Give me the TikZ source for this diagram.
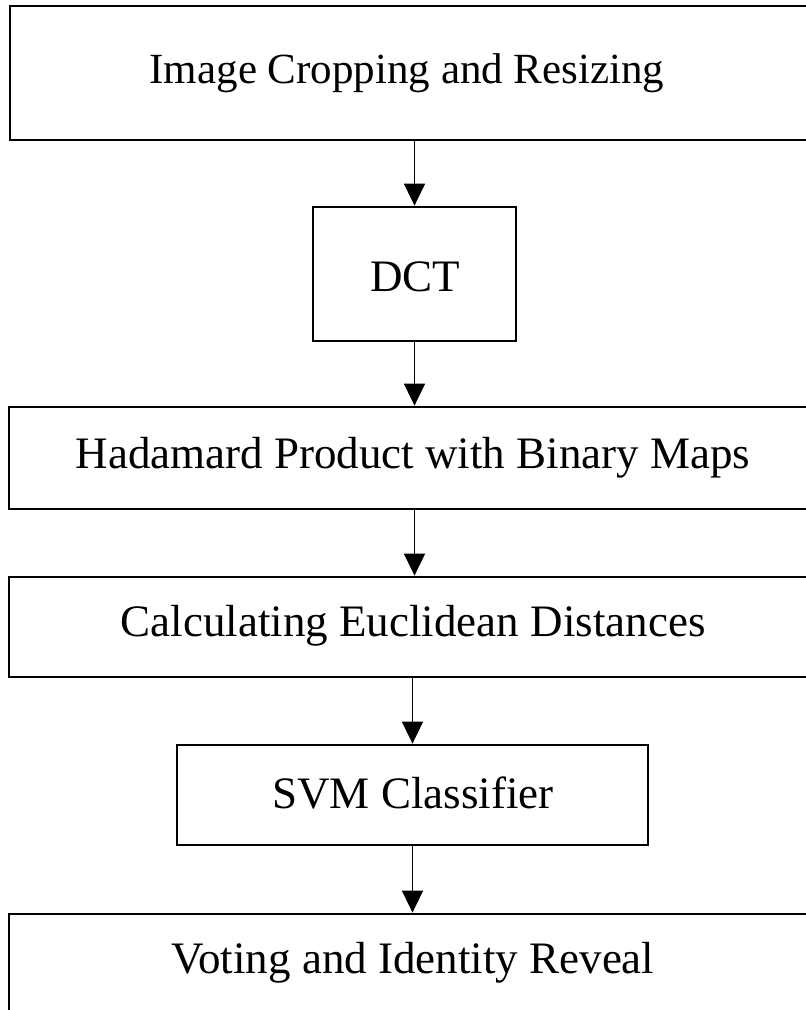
\documentclass[tikz,border=0pt]{standalone}
\usepackage{fontspec}
\setmainfont{Liberation Serif}
\usetikzlibrary{arrows.meta}
\begin{document}
\begin{tikzpicture}[x=1pt,y=-1pt,
  box/.style={draw=black, line width=2.8pt, fill=white},
  txt/.style={font=\fontsize{45}{52}\selectfont, inner sep=0pt},
  arr/.style={line width=1.7pt, -{Triangle[length=22pt,width=21pt]}}]
  \useasboundingbox (0,0) rectangle (806,1010);
  % process boxes (the wide ones run past the right edge)
  \node[box, minimum width=851pt, minimum height=134pt, inner sep=0pt] (b1) at (435.5,73) {};
  \node[box, minimum width=203pt, minimum height=134pt, inner sep=0pt] (b2) at (414.5,274) {};
  \node[box, minimum width=851pt, minimum height=102pt, inner sep=0pt] (b3) at (434.5,458) {};
  \node[box, minimum width=851pt, minimum height=100pt, inner sep=0pt] (b4) at (434.5,627) {};
  \node[box, minimum width=471pt, minimum height=100pt, inner sep=0pt] (b5) at (412.5,795) {};
  \node[box, minimum width=851pt, minimum height=106pt, inner sep=0pt] (b6) at (434.5,967) {};
  % labels
  \node[txt, font=\fontsize{43}{50}\selectfont] (t1) at (407,73) {Image Cropping and Resizing};
  \node[txt] (t2) at (415,277) {DCT};
  \node[txt] (t3) at (413,458) {Hadamard Product with Binary Maps};
  \node[txt] (t4) at (413,626) {Calculating Euclidean Distances};
  \node[txt] (t5) at (413,793) {SVM Classifier};
  \node[txt] (t6) at (413,963) {Voting and Identity Reveal};
  % connectors
  \draw[arr] (b1.south -| b2.north) -- (b2.north);
  \draw[arr] (b2.south) -- (b2.south |- b3.north);
  \draw[arr] (b3.south -| b2.south) -- (b4.north -| b2.south);
  \draw[arr] (b4.south -| b5.north) -- (b5.north);
  \draw[arr] (b5.south) -- (b5.south |- b6.north);
\end{tikzpicture}
\end{document}
